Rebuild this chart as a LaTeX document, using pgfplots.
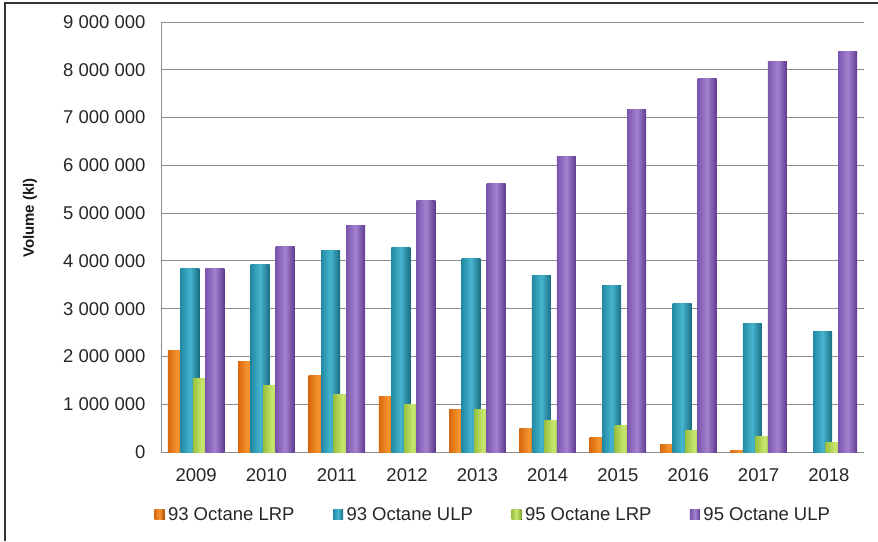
\documentclass[border=0pt]{standalone}
\usepackage{fontspec}
\setmainfont{Liberation Sans}
\usepackage{pgfplots}
\pgfplotsset{compat=1.18}
\definecolor{orL}{HTML}{D8680E}\definecolor{orM}{HTML}{F7962F}\definecolor{orR}{HTML}{B04F08}
\definecolor{teL}{HTML}{2389A3}\definecolor{teM}{HTML}{46B5CF}\definecolor{teR}{HTML}{1A6C82}
\definecolor{grL}{HTML}{98C03E}\definecolor{grM}{HTML}{CAE870}\definecolor{grR}{HTML}{7EA32A}
\definecolor{puL}{HTML}{7A55AE}\definecolor{puM}{HTML}{A382CF}\definecolor{puR}{HTML}{5E3A8E}
\definecolor{gridc}{HTML}{8C8C8C}
\pgfplotsset{
  orS/.style={draw=none, left color=orL, right color=orR, middle color=orM},
  teS/.style={draw=none, left color=teL, right color=teR, middle color=teM},
  grS/.style={draw=none, left color=grL, right color=grR, middle color=grM},
  puS/.style={draw=none, left color=puL, right color=puR, middle color=puM},
}
% one \addplot per bar so that each bar gets its own cylinder shading
\newcommand{\obar}[2]{\addplot[orS, bar shift=-18.75pt, forget plot] coordinates {(#1,#2)};}
\newcommand{\tbar}[2]{\addplot[teS, bar shift=-6.25pt, forget plot] coordinates {(#1,#2)};}
\newcommand{\gbar}[2]{\addplot[grS, bar shift=6.25pt, forget plot] coordinates {(#1,#2)};}
\newcommand{\pbar}[2]{\addplot[puS, bar shift=18.75pt, forget plot] coordinates {(#1,#2)};}
\begin{document}
\begin{tikzpicture}[x=1pt,y=1pt]
\useasboundingbox (-161,-89) rectangle (717,452);
\begin{axis}[
  at={(0pt,0pt)}, anchor=south west,
  scale only axis, width=703pt, height=430pt,
  xmin=-0.5, xmax=9.5, ymin=0, ymax=9000000,
  xtick={0,1,2,3,4,5,6,7,8,9},
  xticklabels={2009,2010,2011,2012,2013,2014,2015,2016,2017,2018},
  ytick={0,1000000,2000000,3000000,4000000,5000000,6000000,7000000,8000000,9000000},
  yticklabels={0,1~000~000,2~000~000,3~000~000,4~000~000,5~000~000,6~000~000,7~000~000,8~000~000,9~000~000},
  scaled y ticks=false,
  major tick length=0pt,
  ymajorgrids, grid style={gridc, line width=0.9pt},
  axis x line*=bottom, axis y line*=left,
  axis line style={gridc, line width=0.9pt},
  tick label style={font=\fontsize{18.5}{20}\selectfont, text=black!85},
  yticklabel style={xshift=-12pt},
  xticklabel style={yshift=-13pt},
  ybar, bar width=19pt,
  legend columns=4,
  legend style={at={(0.4737,-0.1465)}, anchor=center, draw=none, fill=none,
    font=\fontsize{18.5}{20}\selectfont, text=black!85,
    nodes={inner xsep=3.5pt},
    /tikz/every even column/.append style={column sep=35pt}},
  legend image code/.code={\fill[#1] (0pt,-5pt) rectangle (10pt,5pt);},
]
% 93 Octane LRP
\obar{0}{2130000}\obar{1}{1890000}\obar{2}{1610000}\obar{3}{1170000}\obar{4}{900000}
\obar{5}{500000}\obar{6}{300000}\obar{7}{150000}\obar{8}{30000}\obar{9}{0}
% 93 Octane ULP
\tbar{0}{3850000}\tbar{1}{3930000}\tbar{2}{4210000}\tbar{3}{4270000}\tbar{4}{4050000}
\tbar{5}{3690000}\tbar{6}{3480000}\tbar{7}{3110000}\tbar{8}{2700000}\tbar{9}{2520000}
% 95 Octane LRP
\gbar{0}{1530000}\gbar{1}{1400000}\gbar{2}{1210000}\gbar{3}{1000000}\gbar{4}{880000}
\gbar{5}{660000}\gbar{6}{560000}\gbar{7}{450000}\gbar{8}{320000}\gbar{9}{190000}
% 95 Octane ULP
\pbar{0}{3850000}\pbar{1}{4310000}\pbar{2}{4750000}\pbar{3}{5270000}\pbar{4}{5620000}
\pbar{5}{6180000}\pbar{6}{7170000}\pbar{7}{7820000}\pbar{8}{8170000}\pbar{9}{8380000}
\addlegendimage{orS}\addlegendentry{93 Octane LRP}
\addlegendimage{teS}\addlegendentry{93 Octane ULP}
\addlegendimage{grS}\addlegendentry{95 Octane LRP}
\addlegendimage{puS}\addlegendentry{95 Octane ULP}
\end{axis}
\node[rotate=90, font=\bfseries\fontsize{15}{17}\selectfont, text=black!90] at (-131,234) {Volume (kl)};
\draw[line width=2pt, black!80] (-156,-89) -- (-156,449) -- (717,449);
\end{tikzpicture}
\end{document}
